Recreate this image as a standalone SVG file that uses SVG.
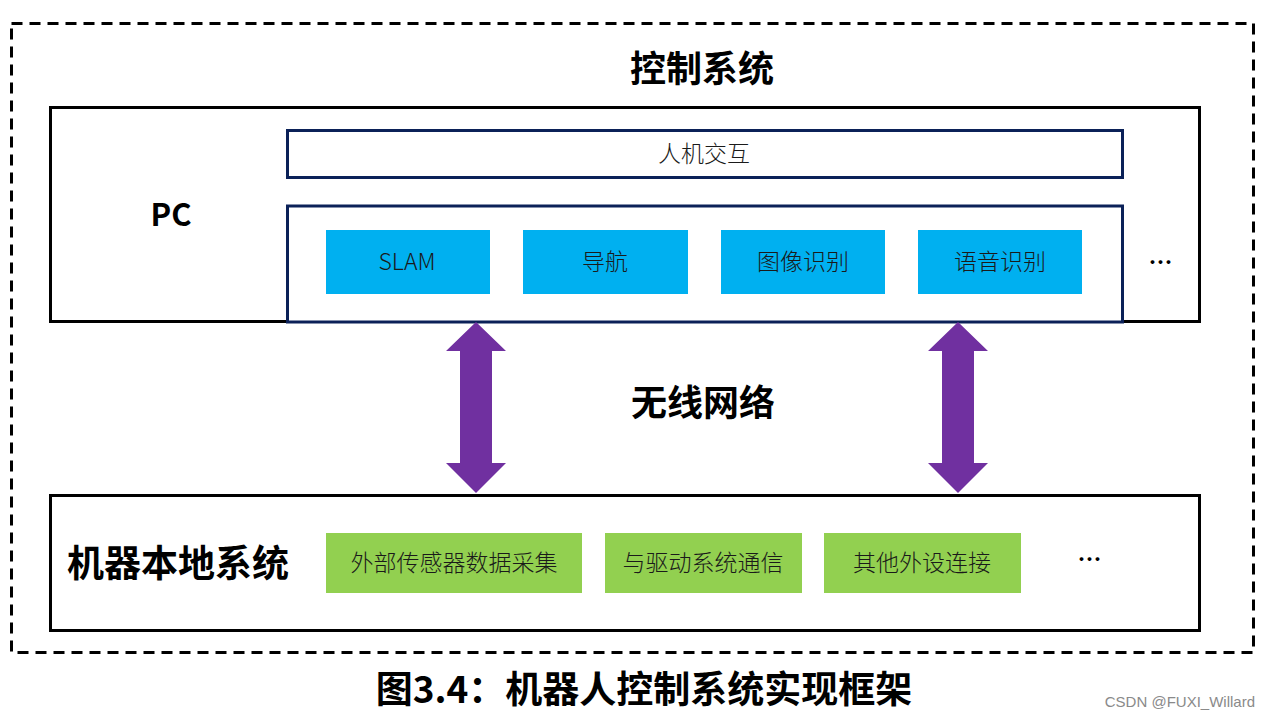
<svg xmlns="http://www.w3.org/2000/svg" width="1270" height="720" viewBox="0 0 1270 720">
<style>
text{font-family:"Noto Sans CJK SC","Noto Sans",sans-serif;}
.title{font-size:36px;font-weight:bold;fill:#000;text-anchor:middle;dominant-baseline:central;}
.lbl{font-size:23px;fill:#1a1a1a;text-anchor:middle;dominant-baseline:central;font-weight:300;}
.frame{fill:#fff;stroke:#000;stroke-width:3;}
.navy{fill:#fff;stroke:#0b2158;stroke-width:3;}
.blue{fill:#00b0f0;}
.green{fill:#92d050;}
.arrow{fill:#7030a0;}
.dots{font-size:24px;fill:#000;text-anchor:middle;dominant-baseline:central;font-weight:bold;letter-spacing:1px;}
</style>
<rect width="1270" height="720" fill="#fff"/>
<rect id="outer" x="11.5" y="23.5" width="1242" height="629" fill="none" stroke="#000" stroke-width="3" stroke-dasharray="11,7"/>
<text class="title" x="702" y="66">控制系统</text>
<g id="pc">
<rect class="frame" x="50.5" y="107.5" width="1149" height="214"/>
<text x="171" y="212" style="font-size:31px;font-weight:bold;text-anchor:middle;dominant-baseline:central">PC</text>
<text class="dots" x="1161" y="260">…</text>
</g>
<g id="hci">
<rect class="navy" x="287.5" y="130.5" width="835" height="47"/>
<text class="lbl" x="704" y="152">人机交互</text>
</g>
<g id="algos">
<rect class="navy" x="287.5" y="206" width="835" height="116"/>
</g>
<g id="slam"><rect class="blue" x="326" y="230" width="164" height="64"/><text class="lbl" x="407" y="260">SLAM</text></g>
<g id="nav"><rect class="blue" x="523" y="230" width="165" height="64"/><text class="lbl" x="605" y="260">导航</text></g>
<g id="img"><rect class="blue" x="721" y="230" width="164" height="64"/><text class="lbl" x="803" y="260">图像识别</text></g>
<g id="voice"><rect class="blue" x="918" y="230" width="164" height="64"/><text class="lbl" x="1000" y="260">语音识别</text></g>
<g id="connectors">
<polygon class="arrow" points="476,322 506,351 492,351 492,463 506,463 476,493 446,463 460,463 460,351 446,351"/>
<polygon class="arrow" points="958,322 988,351 974,351 974,463 988,463 958,493 928,463 942,463 942,351 928,351"/>
</g>
<text class="title" x="703" y="400">无线网络</text>
<g id="local">
<rect class="frame" x="50.5" y="495.5" width="1149" height="135"/>
<text x="178" y="561" style="font-size:37px;font-weight:bold;text-anchor:middle;dominant-baseline:central">机器本地系统</text>
<text class="dots" x="1090" y="557">…</text>
</g>
<g id="sensor"><rect class="green" x="326" y="533" width="256" height="60"/><text class="lbl" x="454" y="561">外部传感器数据采集</text></g>
<g id="drive"><rect class="green" x="605" y="533" width="197" height="60"/><text class="lbl" x="703" y="561">与驱动系统通信</text></g>
<g id="periph"><rect class="green" x="824" y="533" width="197" height="60"/><text class="lbl" x="922" y="561">其他外设连接</text></g>
<text class="title" x="644" y="687" style="font-size:37px">图3.4：机器人控制系统实现框架</text>
<text x="1255" y="701" style="font-family:'Liberation Sans',sans-serif;font-size:15px;fill:#8a8a8a;text-anchor:end;dominant-baseline:central">CSDN @FUXI_Willard</text>
</svg>
